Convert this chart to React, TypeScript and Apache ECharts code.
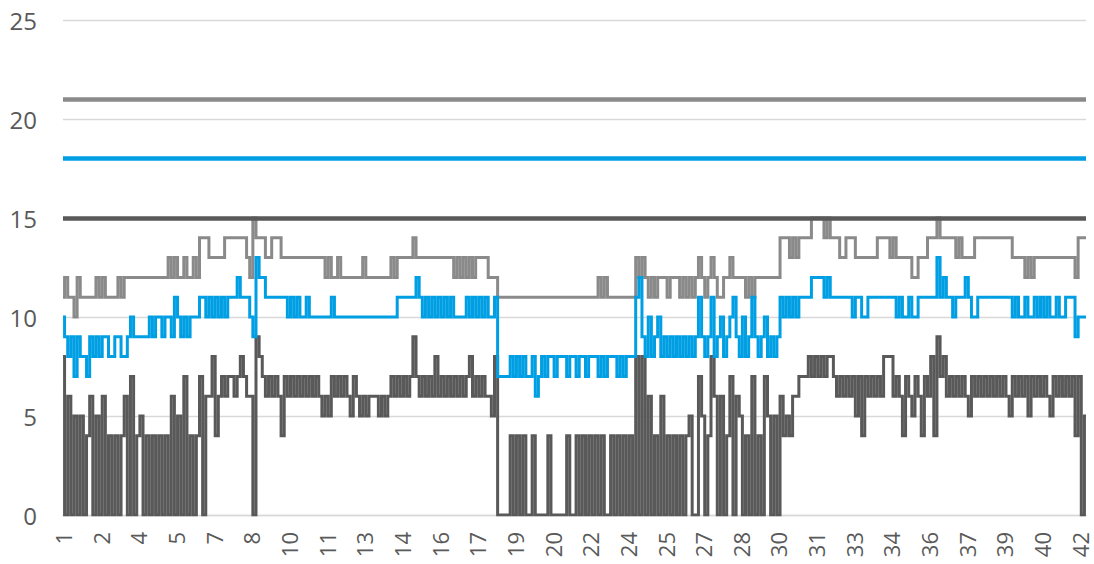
import React, { useEffect, useRef } from "react";
import * as echarts from "echarts";

// Tick labels shown on the category axis (one every 12 samples)
const tickLabels = ["1","2","4","5","7","8","10","11","13","14","16","17","19","20","22","24","25","27","28","30","31","33","34","36","37","39","40","42"];

// Upper series (medium grey)
const greySeries = [
  11,12,11,11,10,12,11,11,11,11,
  11,12,11,12,11,11,11,11,12,11,
  12,12,12,12,12,12,12,12,12,12,
  12,12,12,12,13,12,13,12,12,13,
  12,12,13,12,14,14,14,13,13,13,
  13,13,14,14,14,14,14,14,14,13,
  12,15,14,14,14,13,13,14,14,14,
  13,13,13,13,13,13,13,13,13,13,
  13,13,13,13,12,13,12,12,13,12,
  12,12,12,12,12,12,13,12,12,12,
  12,12,12,12,12,13,12,13,13,13,
  13,13,14,13,13,13,13,13,13,13,
  13,13,13,13,13,12,13,12,13,12,
  13,12,13,13,13,13,12,12,12,11,
  11,11,11,11,11,11,11,11,11,11,
  11,11,11,11,11,11,11,11,11,11,
  11,11,11,11,11,11,11,11,11,11,
  11,12,11,12,11,11,11,11,11,11,
  11,11,11,13,12,13,12,11,12,11,
  12,12,12,11,12,12,12,11,12,11,
  12,11,12,13,12,11,12,13,12,11,
  11,12,12,13,12,12,12,12,11,12,
  11,12,12,12,12,12,12,12,12,14,
  14,14,13,14,13,14,14,14,14,15,
  15,15,15,14,15,14,14,14,13,13,
  14,14,14,13,13,13,13,13,13,13,
  14,14,14,14,13,14,13,13,13,13,
  13,12,12,13,13,13,14,14,14,15,
  14,14,14,14,14,13,14,13,13,13,
  13,14,14,14,14,14,14,14,14,14,
  14,14,14,13,13,13,13,12,13,12,
  13,13,13,13,13,13,13,13,13,13,
  13,13,13,12,14,14,14
];

// Middle series (blue)
const blueSeries = [
  10,9,8,9,7,9,8,8,7,9,
  8,9,8,9,9,8,8,9,9,8,
  8,9,10,9,9,9,9,9,10,9,
  10,10,9,10,10,9,11,10,9,10,
  9,10,10,10,11,11,10,11,10,11,
  10,11,10,11,11,11,12,11,11,11,
  10,9,13,12,12,11,11,11,11,11,
  11,11,10,11,10,11,10,10,11,10,
  10,10,10,10,10,10,11,10,10,10,
  10,10,10,10,10,10,10,10,10,10,
  10,10,10,10,10,10,10,11,11,11,
  11,11,11,12,11,10,11,10,11,10,
  11,10,11,10,11,10,10,10,10,11,
  10,11,10,11,10,11,10,10,11,7,
  7,7,7,8,7,8,7,8,7,7,
  8,6,7,8,7,8,8,7,8,8,
  8,7,8,8,7,8,8,7,8,8,
  8,7,8,7,8,8,8,7,8,7,
  8,8,8,11,12,9,8,10,8,9,
  10,8,9,8,9,8,9,8,9,8,
  9,8,9,11,9,8,9,11,8,9,
  10,8,9,10,11,9,8,10,8,9,
  11,9,8,9,10,8,9,8,9,11,
  10,11,10,11,10,11,11,11,11,12,
  12,12,12,11,12,11,11,11,11,11,
  11,11,10,11,11,10,10,11,11,11,
  11,11,11,11,11,11,10,11,10,10,
  11,10,10,11,11,11,11,11,11,13,
  11,12,11,11,10,11,11,11,12,11,
  10,10,11,11,11,11,11,11,11,11,
  11,11,11,10,11,10,10,11,10,10,
  11,10,11,10,11,10,10,11,10,10,
  11,11,11,9,10,10,10
];

// Lower series (dark grey)
const darkSeries = [
  8,0,6,0,5,0,5,0,4,6,
  0,5,0,6,0,4,0,4,0,4,
  6,0,7,0,4,5,0,4,0,4,
  0,4,0,4,0,6,0,5,0,7,
  0,4,0,4,7,0,6,6,8,4,
  6,7,6,7,7,6,7,8,7,6,
  6,0,9,8,7,6,7,6,7,6,
  4,7,6,7,6,7,6,7,6,7,
  6,7,6,5,6,5,7,6,7,6,
  7,6,5,7,6,5,6,5,6,6,
  6,5,6,5,6,7,6,7,6,7,
  6,7,9,7,6,7,6,7,6,8,
  6,7,6,7,6,7,6,7,6,7,
  8,6,7,6,7,6,6,5,8,0,
  0,0,0,4,0,4,0,4,0,0,
  4,0,0,0,0,4,0,0,0,0,
  0,4,0,0,4,0,4,0,4,0,
  4,0,4,0,0,4,0,4,0,4,
  0,4,0,8,0,8,0,6,0,4,
  0,6,0,4,0,4,0,4,0,4,
  5,0,0,7,5,0,4,8,6,0,
  6,0,4,7,0,6,5,0,4,0,
  7,0,4,0,7,5,0,5,0,6,
  4,5,4,6,6,7,7,7,8,7,
  8,7,8,7,8,8,7,6,7,6,
  7,6,7,5,7,4,7,6,7,6,
  7,6,8,8,8,6,7,6,4,7,
  6,5,7,6,4,7,6,8,4,9,
  7,8,6,7,6,7,6,7,6,5,
  7,6,7,6,7,6,7,6,7,6,
  7,6,5,7,6,7,6,7,5,7,
  6,7,6,7,6,5,7,6,7,6,
  7,6,7,4,7,0,5
];

// Horizontal limit lines
const limitValues = [15, 18, 21];

const DARK = "#595959";
const GREY = "#8a8a8a";
const BLUE = "#009fe3";
const limitColors = [DARK, BLUE, GREY];

const LABEL_STEP = 12;

export default function App() {
  const ref = useRef<HTMLDivElement>(null);

  useEffect(() => {
    if (!ref.current) return;
    const chart = echarts.init(ref.current, null, { renderer: "svg" });
    const categories = darkSeries.map((_, i) => String(i));
    const font = "'Open Sans', 'Noto Sans', sans-serif";

    const lineSeries = (name: string, data: number[], color: string, z: number) => ({
      name,
      type: "line",
      data,
      step: "middle",
      showSymbol: false,
      symbol: "none",
      lineStyle: { color, width: 3, join: "miter" },
      itemStyle: { color },
      z,
    });

    chart.setOption({
      animation: false,
      backgroundColor: "#ffffff",
      grid: { left: 63, right: 8, top: 20, bottom: 49, containLabel: false },
      xAxis: {
        type: "category",
        data: categories,
        boundaryGap: false,
        axisLine: { show: true, lineStyle: { color: "#d9d9d9", width: 1.3 } },
        axisTick: { show: false },
        splitLine: { show: false },
        axisLabel: {
          interval: LABEL_STEP - 1,
          rotate: 90,
          margin: 17,
          color: DARK,
          fontSize: 22,
          lineHeight: 22,
          fontFamily: font,
          formatter: (_v: string, idx: number) => tickLabels[Math.round(idx / LABEL_STEP)] ?? "",
        },
      },
      yAxis: {
        type: "value",
        min: 0,
        max: 25,
        interval: 5,
        axisLine: { show: false },
        axisTick: { show: false },
        splitLine: { show: true, lineStyle: { color: "#d9d9d9", width: 1.3 } },
        axisLabel: { color: DARK, fontSize: 24, fontFamily: font, margin: 26 },
      },
      series: [
        {
          ...lineSeries("dark", darkSeries, DARK, 2),
          markLine: {
            silent: true,
            symbol: ["none", "none"],
            label: { show: false },
            data: limitValues.map((v, i) => ({
              yAxis: v,
              lineStyle: { color: limitColors[i], width: 4.5, type: "solid" },
            })),
          },
        },
        lineSeries("grey", greySeries, GREY, 3),
        lineSeries("blue", blueSeries, BLUE, 4),
      ],
    });

    return () => chart.dispose();
  }, []);

  return (
    <div
      ref={ref}
      style={{ position: "absolute", left: 0, top: 0, width: 1094, height: 564, background: "#fff" }}
    />
  );
}
